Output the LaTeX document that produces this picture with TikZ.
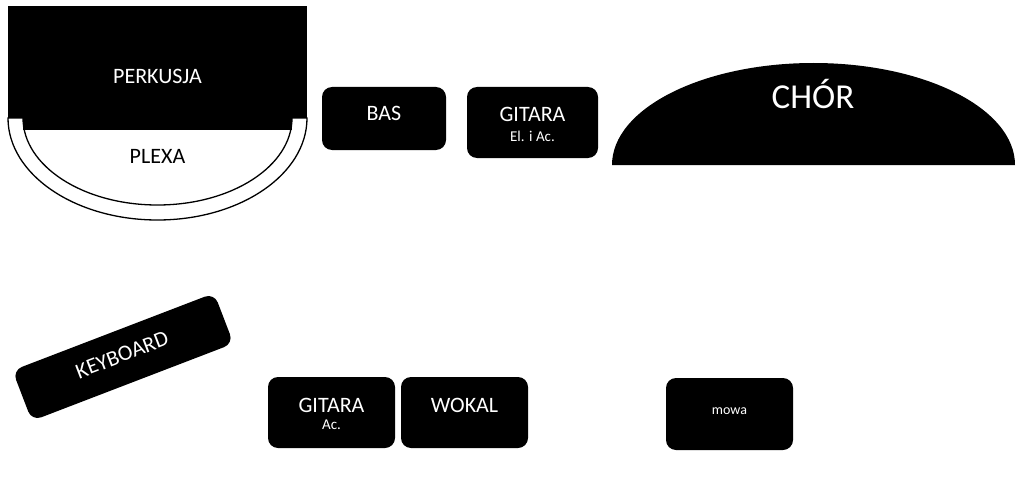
\documentclass[tikz,border=0pt]{standalone}
\usepackage{fontspec}
\setmainfont{Carlito}
\begin{document}
\begin{tikzpicture}[x=1pt,y=-1pt,
  blk/.style={fill=black, rounded corners=10pt, inner sep=0pt},
  wlab/.style={text=white, inner sep=0pt, font=\fontsize{22}{24}\selectfont},
  slab/.style={text=white, inner sep=0pt, font=\fontsize{15}{17}\selectfont}]
\useasboundingbox (0,0) rectangle (1023,503);
% percussion + plexa
\draw[fill=white, line width=1.3pt] (8,118) arc[start angle=180, end angle=0, x radius=149.5, y radius=102] -- cycle;
\draw[fill=white, line width=1.3pt] (23,118) arc[start angle=180, end angle=0, x radius=134.5, y radius=87] -- cycle;
\fill[black] (8,6) rectangle (307,118);
\fill[black] (23,117) rectangle (292,130);
\node[wlab] (perk) at (157.5,76) {PERKUSJA};
\node[wlab, text=black] (plexa) at (157.5,156) {PLEXA};
% bas
\node[blk, minimum width=124pt, minimum height=63pt] (bas) at (384,118.5) {};
\node[wlab] (baslab) at (384,113) {BAS};
% gitara el
\node[blk, minimum width=131pt, minimum height=71pt] (git1) at (532.5,122.5) {};
\node[wlab] (git1a) at (532.5,114) {GITARA};
\node[slab] (git1b) at (532.5,136) {El. i Ac.};
% choir
\fill[black] (612,165) arc[start angle=180, end angle=360, x radius=201.5, y radius=102] -- cycle;
\node[wlab, font=\fontsize{35}{38}\selectfont] (chor) at (813,94) {CHÓR};
% keyboard
\node[blk, rotate=21, minimum width=216pt, minimum height=54pt] (kb) at (123,357) {};
\node[wlab, rotate=21] (kblab) at (122,355) {KEYBOARD};
% gitara ac
\node[blk, minimum width=127pt, minimum height=71pt] (git2) at (331.5,412.5) {};
\node[wlab] (git2a) at (331.5,405) {GITARA};
\node[slab] (git2b) at (331.5,425) {Ac.};
% wokal
\node[blk, minimum width=127pt, minimum height=71pt] (wok) at (464.5,412.5) {};
\node[wlab] (woklab) at (464.5,405) {WOKAL};
% mowa
\node[blk, minimum width=127pt, minimum height=72pt] (mowa) at (729.5,414) {};
\node[slab, font=\fontsize{14}{16}\selectfont] (mowalab) at (729.5,411) {mowa};
\end{tikzpicture}
\end{document}
